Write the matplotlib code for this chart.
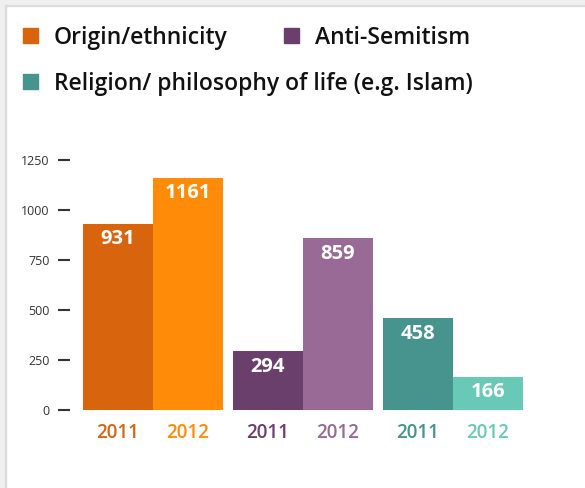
import numpy as np
import matplotlib.pyplot as plt
from matplotlib.patches import Rectangle

# Data
categories = ['Origin/ethnicity', 'Anti-Semitism', 'Religion/ philosophy of life (e.g. Islam)']
years = ['2011', '2012']
values_2011 = [931, 294, 458]
values_2012 = [1161, 859, 166]
y_ticks = [0, 250, 500, 750, 1000, 1250]

# Styles
colors_2011 = ['#D8640E', '#6A3F6C', '#46948D']
colors_2012 = ['#FF8B08', '#986A95', '#69C9B7']
W, H = 585, 488

plt.rcParams['font.family'] = ['Open Sans', 'DejaVu Sans']

fig = plt.figure(figsize=(W / 100, H / 100), dpi=100)
fig.patch.set_facecolor('white')

# frame strips at top/left like the screenshot
fig.patches.append(Rectangle((0, 1 - 5 / H), 1, 5 / H, transform=fig.transFigure,
                             color='#efefef', zorder=0))
fig.patches.append(Rectangle((0, 1 - 6 / H), 1, 1 / H, transform=fig.transFigure,
                             color='#dcdcdc', zorder=0))
fig.patches.append(Rectangle((0, 0), 5 / W, 1, transform=fig.transFigure,
                             color='#efefef', zorder=0))
fig.patches.append(Rectangle((5 / W, 0), 1 / W, 1 - 5 / H, transform=fig.transFigure,
                             color='#dcdcdc', zorder=0))

# axes placed in pixels: x 83..523, y 160..410
ax = fig.add_axes([83 / W, (H - 410) / H, 440 / W, 250 / H])

gap = 1 / 7
n = len(categories)
for i in range(n):
    left = i * (2 + gap)
    for j, (val, col) in enumerate([(values_2011[i], colors_2011[i]),
                                     (values_2012[i], colors_2012[i])]):
        x = left + j + 0.5
        ax.bar(x, val, width=1.0, color=col, edgecolor='none')
        ax.annotate(str(val), (x, val), xytext=(0, -4), textcoords='offset points',
                    ha='center', va='top', color='white', fontsize=14.5,
                    fontweight='bold')
        ax.annotate(years[j], (x, 0), xytext=(0, -9), textcoords='offset points',
                    ha='center', va='top', color=col, fontsize=13.5,
                    fontweight='semibold', annotation_clip=False)

ax.set_xlim(0, n * 2 + (n - 1) * gap)
ax.set_ylim(0, 1250)
ax.set_xticks([])
ax.set_yticks(y_ticks)
ax.set_yticklabels([str(t) for t in y_ticks])
for s in ['top', 'right', 'bottom', 'left']:
    ax.spines[s].set_visible(False)
ax.tick_params(axis='y', direction='out', length=8.6, width=1.5, color='#333333',
               pad=6, labelsize=9, labelcolor='#333333')
# move tick marks left of the first bar
ax.spines['left'].set_position(('outward', 9.4))

# legend drawn in figure coords
def legend_item(px, py, color, label):
    fig.patches.append(Rectangle((px / W, 1 - (py + 7.5) / H), 15 / W, 15 / H,
                                 transform=fig.transFigure, color=color))
    fig.text((px + 31) / W, 1 - py / H, label, ha='left', va='center_baseline',
             fontsize=16.5, fontweight='semibold', color='#111111')

legend_item(23, 35, colors_2011[0], categories[0])
legend_item(284, 35, colors_2011[1], categories[1])
legend_item(23, 81, colors_2011[2], categories[2])

fig.savefig('out.png', dpi=100)
